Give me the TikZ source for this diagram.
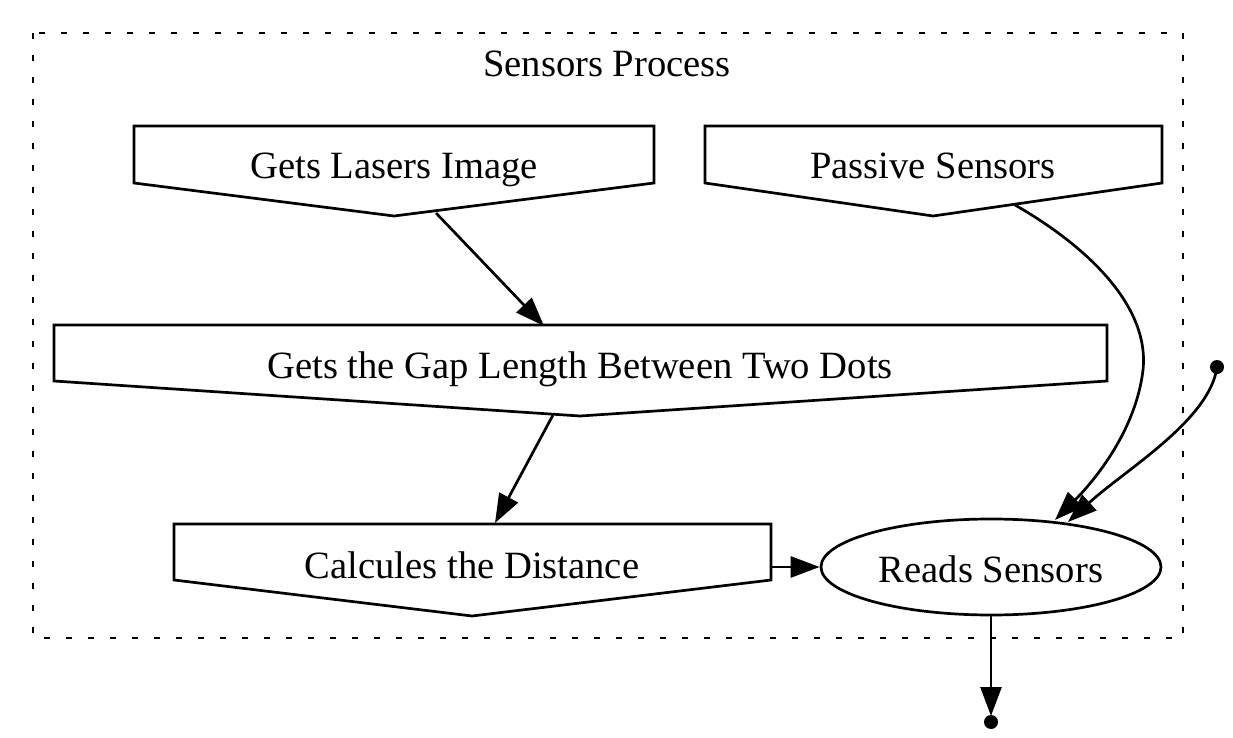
\documentclass[tikz,border=0pt]{standalone}
\usepackage{fontspec}
\setmainfont{Liberation Serif}
\usetikzlibrary{arrows.meta,calc,shapes.geometric}
\begin{document}
\begin{tikzpicture}[x=0.5pt,y=-0.5pt,
  every node/.style={font=\fontsize{19.3}{23}\selectfont, inner sep=0pt},
  lbl/.style={anchor=base},
  shp/.style={draw, line width=1.35pt, line join=miter},
  edge/.style={draw, line width=1.35pt, -{Triangle[length=14.5pt,width=10.5pt]}},
  cluster/.style={draw, line width=1.35pt, dash pattern=on 3pt off 8pt},
  dotend/.style={circle, fill, minimum size=7pt, inner sep=0pt}]
\useasboundingbox (0,0) rectangle (1233,738);
% cluster
\draw[cluster] (33,33) rectangle (1183,638);
\node[lbl] (title) at (607,77) {Sensors Process};
% Gets Lasers Image
\draw[shp] (134,126) -- (654,126) -- (654,183) -- (394,216) -- (134,183) -- cycle;
\node[lbl] (gl) at (394,178) {Gets Lasers Image};
% Passive Sensors
\draw[shp] (705,126) -- (1162,126) -- (1162,183) -- (933,216) -- (705,183) -- cycle;
\node[lbl] (ps) at (933,178) {Passive Sensors};
% Gap
\draw[shp] (54,325) -- (1107,325) -- (1107,381) -- (580,416) -- (54,381) -- cycle;
\node[lbl] (gap) at (580,378) {Gets the Gap Length Between Two Dots};
% Calcules
\draw[shp] (174,524) -- (771,524) -- (771,580) -- (472,616) -- (174,580) -- cycle;
\node[lbl] (cd) at (472,578) {Calcules the Distance};
% Reads Sensors
\node[draw, line width=1.35pt, ellipse, minimum width=170pt, minimum height=48pt,
      text height=15pt, text depth=0pt] (rs) at (991,567) {Reads Sensors};
% endpoints
\coordinate (glb) at (436,213);
\coordinate (gapt) at (544,326);
\coordinate (gapb) at (553,415);
\coordinate (cdt) at (495,523);
\coordinate (cdr) at (771,567);
\coordinate (psb) at (1015,205);
\coordinate (rs1) at (1055,520);
\coordinate (rs2) at (1068,522);
\node[dotend] (din) at (1217,367) {};
\node[dotend] (dout) at (991,722) {};
% edges
\draw[edge] (glb) -- (gapt);
\draw[edge] (gapb) -- (cdt);
\draw[edge] (cdr) -- (rs.west);
\draw[edge] (psb) .. controls (1085,245) and (1150,305) .. (1143,370) .. controls (1136,430) and (1095,480) .. (rs1);
\draw[edge] (din.center) .. controls (1210,420) and (1125,470) .. (rs2);
\draw[edge] (rs.south) -- ($(dout.center)+(0,-6)$);
\end{tikzpicture}
\end{document}
